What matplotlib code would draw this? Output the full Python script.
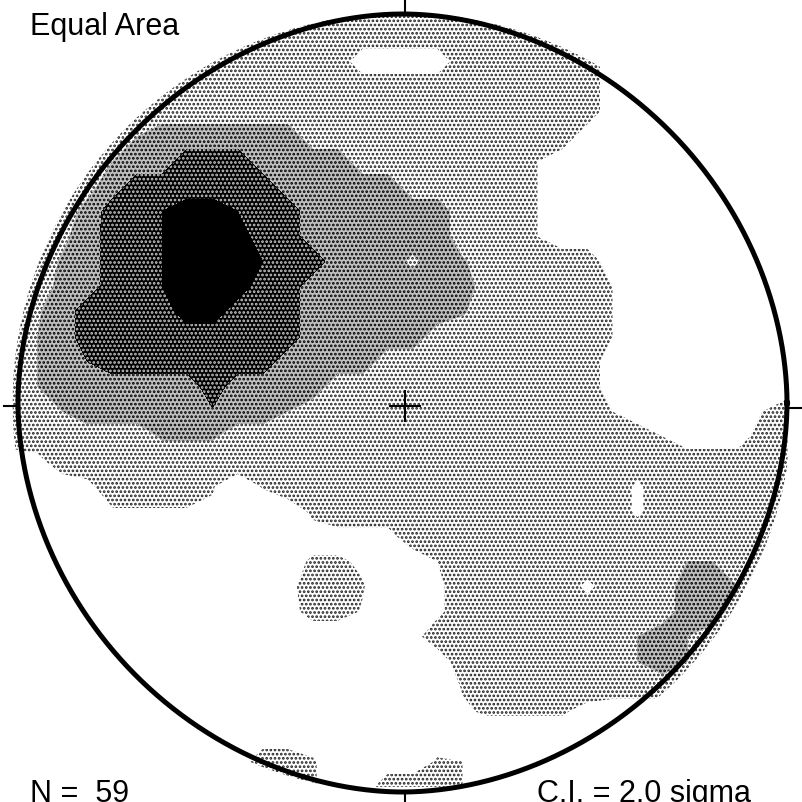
import numpy as np
import matplotlib
matplotlib.use("Agg")
import matplotlib.pyplot as plt
from matplotlib.patches import Circle

# Kamb density in sigma units, read off the net on a 25 px grid
# (rows top to bottom, columns left to right)
density = [
    [3, 3, 3, 3, 3, 3, 3, 3, 3, 3, 3, 3, 3, 3, 3, 3, 3, 3, 3, 3, 3, 3, 3, 3, 1, 1, 1, 1, 1, 1, 1, 1],
    [3, 3, 3, 3, 3, 3, 3, 3, 3, 3, 3, 3, 3, 3, 3, 3, 3, 3, 3, 3, 3, 3, 3, 3, 1, 1, 1, 1, 1, 1, 1, 1],
    [3, 3, 3, 3, 3, 3, 3, 3, 3, 3, 3, 3, 3, 3, 1, 1, 1, 1, 3, 3, 3, 3, 3, 3, 1, 1, 1, 1, 1, 1, 1, 1],
    [3, 3, 3, 3, 3, 3, 3, 3, 3, 3, 3, 3, 3, 3, 3, 3, 3, 3, 3, 3, 3, 3, 3, 3, 1, 1, 1, 1, 1, 1, 1, 1],
    [3, 3, 3, 3, 3, 3, 3, 3, 3, 3, 3, 3, 3, 3, 3, 3, 3, 3, 3, 3, 3, 3, 3, 3, 1, 1, 1, 1, 1, 1, 1, 1],
    [3, 3, 3, 3, 3, 4, 5, 5, 5, 5, 5, 5, 3, 3, 3, 3, 3, 3, 3, 3, 3, 3, 3, 1, 1, 1, 1, 1, 1, 1, 1, 1],
    [3, 3, 3, 3, 4, 5, 5, 7, 7, 7, 5, 5, 5, 5, 3, 3, 3, 3, 3, 3, 3, 2, 1, 1, 1, 1, 1, 1, 1, 1, 1, 1],
    [3, 3, 3, 3.4, 5, 7, 7, 7, 7, 7, 7, 5, 5, 5, 5, 5, 3, 3, 3, 3, 3, 2, 1, 1, 1, 1, 1, 1, 1, 1, 1, 1],
    [3, 3, 3, 4.6, 7, 7, 8, 9, 9, 8, 7, 7, 5, 5, 5, 5, 5, 5, 3, 3, 3, 2, 1, 1, 1, 1, 1, 1, 1, 1, 1, 1],
    [3, 3, 3.6, 5, 7, 7, 8, 9, 9, 9, 7, 7, 5, 5, 5, 5, 5, 5, 3, 3, 3, 2, 1, 1, 1, 1, 1, 1, 1, 1, 1, 1],
    [3, 3, 4.2, 5, 7, 7, 8, 9, 9, 9, 8, 7, 7, 5, 5, 5, 3.6, 5, 4.2, 3, 3, 3, 3, 3, 1, 1, 1, 1, 1, 1, 1, 1],
    [3, 3, 4.6, 5, 7, 7, 8, 9, 9, 9, 7, 7, 5, 5, 5, 5, 5, 5, 5, 3, 3, 3, 3, 3, 2, 1, 1, 1, 1, 1, 1, 1],
    [3, 3.8, 5, 7, 7, 7, 7, 9, 9, 7, 7, 7, 5, 5, 5, 5, 5, 5, 4.2, 3, 3, 3, 3, 3, 2, 1, 1, 1, 1, 1, 1, 1],
    [3, 4, 5, 7, 7, 7, 7, 7, 7, 7, 7, 7, 5, 5, 5, 5, 5, 3, 3, 3, 3, 3, 3, 3, 2, 1, 1, 1, 1, 1, 1, 1],
    [3, 4, 5, 6, 7, 7, 7, 7, 7, 7, 7, 5, 5, 5, 5, 3, 3, 3, 3, 3, 3, 3, 3, 3, 1, 1, 1, 1, 1, 1, 1, 1],
    [3, 4, 5, 5, 5, 5, 5, 5, 7, 5, 5, 5, 5, 3, 3, 3, 3, 3, 3, 3, 3, 3, 3, 3, 1, 1, 1, 1, 1, 1, 1, 1],
    [3, 3, 4, 5, 5, 5, 5, 5, 5.8, 5, 5, 4, 3, 3, 3, 3, 3, 3, 3, 3, 3, 3, 3, 3, 2, 1, 1, 1, 1, 1, 2, 3],
    [3, 3, 3, 3, 3, 3, 4.2, 4.2, 4.2, 3, 3, 3, 3, 3, 3, 3, 3, 3, 3, 3, 3, 3, 3, 3, 3, 3, 2, 1, 1, 1, 3, 3],
    [1, 1.5, 3, 3, 3, 3, 3, 3, 3, 3, 3, 3, 3, 3, 3, 3, 3, 3, 3, 3, 3, 3, 3, 3, 3, 3, 3, 3, 3, 3, 3, 3],
    [1, 1, 1, 1.6, 3, 3, 3, 3, 2.1, 1, 2.1, 3, 3, 3, 3, 3, 3, 3, 3, 3, 3, 3, 3, 3, 3, 1.7, 3, 3, 3, 3, 3, 3],
    [1, 1, 1, 1, 1.8, 1.8, 1.8, 1.8, 1.8, 1, 1, 1, 2.3, 3, 3, 3, 3, 3, 3, 3, 3, 3, 3, 3, 3, 1.7, 3, 3, 3, 3, 3, 3],
    [1, 1, 1, 1, 1, 1, 1, 1, 1, 1, 1, 1, 1.4, 1.4, 1.4, 1.4, 3, 3, 3, 3, 3, 3, 3, 3, 3, 3, 3, 3, 3, 3, 3, 3],
    [1, 1, 1, 1, 1, 1, 1, 1, 1, 1, 1, 1.4, 2.2, 2.2, 1.8, 1, 1, 2, 3, 3, 3, 3, 3, 3, 3, 3, 3, 4, 4, 3, 3, 3],
    [1, 1, 1, 1, 1, 1, 1, 1, 1, 1, 1, 1.4, 3, 3, 2.1, 1, 1, 1.6, 3, 3, 3, 3, 3, 1.6, 3, 3, 3, 5, 5, 4, 3, 3],
    [1, 1, 1, 1, 1, 1, 1, 1, 1, 1, 1, 1.4, 2.6, 2.6, 1.9, 1, 1, 1.6, 3, 3, 3, 3, 3, 3, 3, 3, 3, 5, 5, 3, 3, 3],
    [1, 1, 1, 1, 1, 1, 1, 1, 1, 1, 1, 1, 1, 1, 1, 1, 1.4, 3, 3, 3, 3, 3, 3, 3, 3, 4, 5, 4, 3, 3, 3, 3],
    [1, 1, 1, 1, 1, 1, 1, 1, 1, 1, 1, 1, 1, 1, 1, 1, 1, 1, 3, 3, 3, 3, 3, 3, 3, 4, 5, 4, 3, 3, 3, 3],
    [1, 1, 1, 1, 1, 1, 1, 1, 1, 1, 1, 1, 1, 1, 1, 1, 1, 1, 2.1, 3, 3, 3, 3, 3, 3, 3, 3, 3, 3, 3, 3, 3],
    [1, 1, 1, 1, 1, 1, 1, 1, 1, 1, 1, 1, 1, 1, 1, 1, 1, 1, 1.8, 2.2, 2.2, 2.2, 2.2, 1.4, 1, 1, 1, 1, 1, 1, 1, 1],
    [1, 1, 1, 1, 1, 1, 1, 1, 1, 1, 1, 1, 1, 1, 1, 1, 1, 1, 1, 1, 1, 1, 1, 1, 1, 1, 1, 1, 1, 1, 1, 1],
    [1, 1, 1, 1, 1, 1, 1, 1, 1, 1, 3, 3, 2.2, 1, 1, 1, 1, 2.2, 2, 1, 1, 1, 1, 1, 1, 1, 1, 1, 1, 1, 1, 1],
    [1, 1, 1, 1, 1, 1, 1, 1, 1, 1, 3, 3, 2.2, 1, 1, 3, 3, 3, 2, 1, 1, 1, 1, 1, 1, 1, 1, 1, 1, 1, 1, 1],
]
contour_levels = [2, 4, 6, 8, 10]   # C.I. = 2 sigma
n_points = 59
interval = 2.0

cell = 25                  # grid spacing, px
centre = (402.5, 404)      # centre of the primitive circle
cross = (405, 407)         # centre mark
r_x, r_y = 384.5, 389      # primitive radii (slightly squarish plot)
squareness = 1.92
r_field = 390

plt.rcParams['font.family'] = ['Liberation Sans', 'DejaVu Sans']
plt.rcParams['hatch.linewidth'] = 1.3

Z = np.array(density, dtype=float)
gx = cell / 2 + cell * np.arange(Z.shape[1])
gy = cell / 2 + cell * np.arange(Z.shape[0])
X, Y = np.meshgrid(gx, gy)

fig = plt.figure(figsize=(8.03, 8.03), dpi=100)
ax = fig.add_axes([0, 0, 1, 1])
ax.set_xlim(0, 803)
ax.set_ylim(803, 0)
ax.set_aspect('equal')
ax.axis('off')

# face colour, hatch, hatch colour for each 2-sigma band
fills = [('white', '....', '#202020'),
         ('#c0c0c0', '....', 'black'),
         ('black', '....', '#c8c8c8'),
         ('black', None, 'black')]
field = Circle(centre, r_field, transform=ax.transData)
for k, (face, hatch, hcol) in enumerate(fills):
    with plt.rc_context({'hatch.color': hcol}):
        cs = ax.contourf(X, Y, Z, levels=contour_levels[k:k + 2],
                         colors=[face], hatches=[hatch])
    cs.set_clip_path(field)

# primitive, N/E/S/W ticks and centre cross
t = np.linspace(0, 2 * np.pi, 1441)
c, s = np.cos(t), np.sin(t)
px = centre[0] + r_x * np.sign(c) * np.abs(c) ** (2 / squareness)
py = centre[1] + r_y * np.sign(s) * np.abs(s) ** (2 / squareness)
ax.plot(px, py, color='black', lw=3.6)

tick = 14
ax.plot([cross[0], cross[0]], [centre[1] - r_y, centre[1] - r_y - tick], color='black', lw=1.5)
ax.plot([cross[0], cross[0]], [centre[1] + r_y, centre[1] + r_y + tick], color='black', lw=1.5)
ax.plot([centre[0] - r_x, centre[0] - r_x - tick], [cross[1], cross[1]], color='black', lw=1.5)
ax.plot([centre[0] + r_x, centre[0] + r_x + tick], [cross[1] + 2, cross[1] + 2], color='black', lw=1.5)
ax.plot([cross[0] - 15, cross[0] + 15], [cross[1], cross[1]], color='black', lw=1.5)
ax.plot([cross[0], cross[0]], [cross[1] - 15, cross[1] + 15], color='black', lw=1.5)

ax.text(30, 35, 'Equal Area', fontsize=22, va='baseline', ha='left')
ax.text(30, 802, 'N =  %d' % n_points, fontsize=22, va='baseline', ha='left')
ax.text(537, 802, 'C.I. = %.1f sigma' % interval, fontsize=22, va='baseline', ha='left')

fig.savefig('out.png', dpi=100)
